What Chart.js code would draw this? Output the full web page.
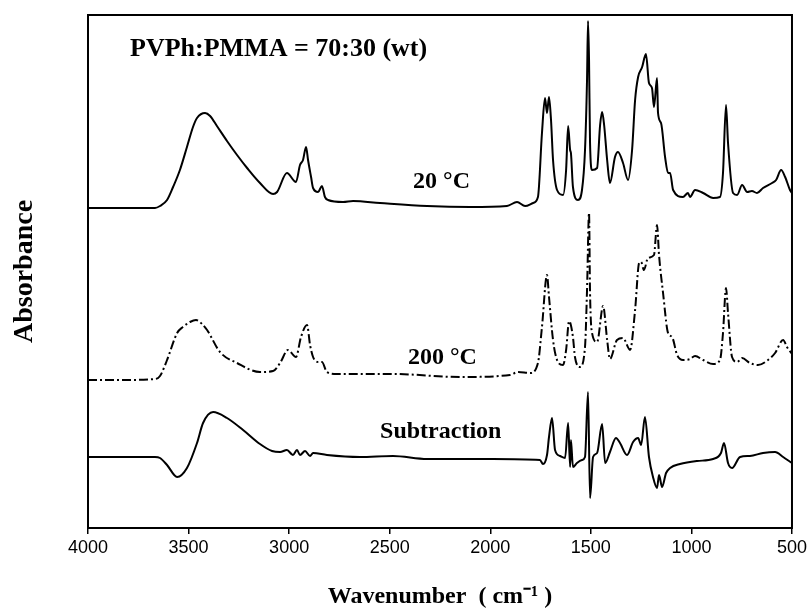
<!DOCTYPE html>
<html>
<head>
<meta charset="utf-8">
<script src="https://cdn.jsdelivr.net/npm/chart.js@4.4.1/dist/chart.umd.min.js"></script>
<style>
  html, body { margin: 0; padding: 0; background: #fff; }
</style>
</head>
<body>
<canvas id="ftirChart" width="810" height="611"></canvas>
<script>
// wavenumber (cm-1) and offset absorbance (a.u.)
const wn20 = [4000, 3841, 3667, 3642, 3607, 3577, 3543, 3508, 3478, 3458, 3418, 3393, 3359, 3309, 3259, 3209, 3145, 3080, 3060, 3011, 2966, 2946, 2931, 2916, 2906, 2891, 2881, 2856, 2837, 2822, 2807, 2732, 2682, 2548, 2314, 2101, 1917, 1867, 1827, 1787, 1763, 1743, 1728, 1718, 1708, 1698, 1688, 1668, 1638, 1623, 1613, 1603, 1599, 1589, 1564, 1544, 1529, 1519, 1514, 1509, 1504, 1494, 1469, 1454, 1444, 1434, 1419, 1405, 1380, 1365, 1340, 1315, 1295, 1280, 1265, 1245, 1226, 1211, 1196, 1186, 1171, 1166, 1151, 1131, 1116, 1106, 1091, 1042, 1017, 1007, 982, 942, 892, 858, 843, 828, 818, 793, 773, 748, 723, 699, 674, 644, 599, 579, 554, 534, 510, 500];
const abs20 = [3.20, 3.20, 3.20, 3.22, 3.28, 3.41, 3.58, 3.81, 4.01, 4.10, 4.15, 4.12, 4.02, 3.87, 3.73, 3.60, 3.45, 3.34, 3.36, 3.55, 3.46, 3.63, 3.68, 3.81, 3.68, 3.51, 3.40, 3.36, 3.42, 3.31, 3.28, 3.26, 3.27, 3.25, 3.22, 3.21, 3.22, 3.26, 3.22, 3.25, 3.31, 3.95, 4.30, 4.15, 4.31, 4.08, 3.68, 3.38, 3.33, 3.58, 4.02, 3.78, 3.75, 3.41, 3.28, 3.38, 3.78, 4.48, 5.07, 4.68, 3.85, 3.58, 3.60, 4.03, 4.16, 4.03, 3.68, 3.45, 3.71, 3.76, 3.65, 3.48, 3.78, 4.28, 4.51, 4.61, 4.74, 4.45, 4.40, 4.21, 4.50, 4.15, 4.05, 3.71, 3.55, 3.55, 3.38, 3.31, 3.35, 3.31, 3.38, 3.35, 3.30, 3.31, 3.55, 4.23, 3.85, 3.35, 3.33, 3.43, 3.36, 3.37, 3.35, 3.40, 3.45, 3.48, 3.58, 3.51, 3.38, 3.35];

const wn200 = [4000, 3841, 3667, 3642, 3607, 3557, 3528, 3493, 3463, 3433, 3408, 3344, 3259, 3145, 3080, 3045, 3006, 2966, 2941, 2911, 2896, 2881, 2856, 2837, 2812, 2762, 2484, 2150, 1902, 1862, 1802, 1763, 1743, 1718, 1708, 1688, 1668, 1638, 1623, 1608, 1589, 1579, 1554, 1529, 1519, 1509, 1504, 1494, 1469, 1439, 1419, 1405, 1370, 1340, 1305, 1280, 1260, 1250, 1236, 1216, 1186, 1171, 1161, 1141, 1116, 1096, 1071, 1042, 1007, 982, 942, 892, 858, 843, 828, 818, 798, 773, 748, 709, 669, 619, 584, 544, 525, 500];
const abs200 = [1.48, 1.48, 1.49, 1.52, 1.68, 1.95, 2.01, 2.06, 2.08, 2.04, 1.98, 1.76, 1.65, 1.56, 1.57, 1.65, 1.78, 1.71, 1.91, 2.03, 1.83, 1.71, 1.66, 1.66, 1.56, 1.54, 1.54, 1.51, 1.53, 1.56, 1.55, 1.65, 2.01, 2.53, 2.31, 1.88, 1.68, 1.63, 1.78, 2.07, 1.91, 1.71, 1.61, 1.81, 2.38, 3.15, 2.35, 1.95, 1.86, 2.22, 1.88, 1.69, 1.88, 1.90, 1.78, 2.18, 2.65, 2.66, 2.58, 2.70, 2.73, 3.03, 2.73, 2.35, 1.95, 1.91, 1.73, 1.68, 1.69, 1.72, 1.68, 1.64, 1.68, 1.95, 2.40, 2.15, 1.71, 1.66, 1.70, 1.65, 1.63, 1.68, 1.75, 1.88, 1.81, 1.74];

const wnSub = [4000, 3667, 3642, 3607, 3557, 3508, 3458, 3428, 3378, 3309, 3229, 3145, 3085, 3045, 3011, 2981, 2961, 2946, 2921, 2896, 2881, 2812, 2648, 2484, 2314, 1986, 1753, 1738, 1718, 1708, 1693, 1678, 1653, 1628, 1613, 1603, 1599, 1589, 1569, 1544, 1529, 1514, 1504, 1489, 1469, 1444, 1429, 1405, 1375, 1355, 1320, 1290, 1265, 1250, 1231, 1211, 1191, 1171, 1161, 1146, 1126, 1106, 1057, 972, 892, 853, 838, 818, 798, 758, 709, 644, 584, 544, 500];
const absSub = [0.71, 0.71, 0.70, 0.63, 0.51, 0.60, 0.85, 1.05, 1.16, 1.10, 0.98, 0.84, 0.77, 0.76, 0.78, 0.73, 0.78, 0.73, 0.77, 0.72, 0.75, 0.73, 0.71, 0.72, 0.69, 0.69, 0.68, 0.64, 0.73, 0.91, 1.10, 0.78, 0.72, 0.70, 1.05, 0.61, 0.88, 0.61, 0.65, 0.68, 0.71, 1.36, 0.30, 0.71, 0.75, 1.04, 0.65, 0.76, 0.90, 0.85, 0.73, 0.86, 0.90, 0.83, 1.11, 0.71, 0.51, 0.40, 0.53, 0.41, 0.55, 0.60, 0.64, 0.67, 0.69, 0.75, 0.85, 0.65, 0.60, 0.71, 0.72, 0.75, 0.76, 0.71, 0.65];

// text labels inside the plot, anchored in data coordinates (left edge, middle)
const labelTexts = ["PVPh:PMMA = 70:30 (wt)", "20 \u00B0C", "200 \u00B0C", "Subtraction"];
const labelWn = [3791, 2384, 2409, 2548];
const labelAbs = [4.79, 3.46, 1.70, 0.96];
const labelSizes = [26, 24, 24, 24];

const xTicks = [4000, 3500, 3000, 2500, 2000, 1500, 1000, 500];

function toPoints(xs, ys) {
  return xs.map((x, i) => ({ x: x, y: ys[i] }));
}

const labelPlugin = {
  id: "spectrumLabels",
  afterDatasetsDraw(chart) {
    const { ctx, chartArea, scales } = chart;
    ctx.save();
    ctx.strokeStyle = "#000";
    ctx.lineWidth = 2;
    ctx.strokeRect(chartArea.left, chartArea.top, chartArea.width, chartArea.height);
    ctx.fillStyle = "#000";
    ctx.textBaseline = "middle";
    ctx.textAlign = "left";
    labelTexts.forEach((t, i) => {
      ctx.font = "bold " + labelSizes[i] + "px 'Liberation Serif', 'Times New Roman', serif";
      ctx.fillText(t, scales.x.getPixelForValue(labelWn[i]), scales.y.getPixelForValue(labelAbs[i]));
    });
    ctx.restore();
  }
};

const lineStyle = {
  borderColor: "#000",
  borderWidth: 2,
  pointRadius: 0,
  fill: false,
  cubicInterpolationMode: "monotone"
};

const ctx = document.getElementById("ftirChart").getContext("2d");
new Chart(ctx, {
  type: "line",
  data: {
    datasets: [
      Object.assign({ label: "20 °C", data: toPoints(wn20, abs20) }, lineStyle),
      Object.assign({ label: "200 °C", data: toPoints(wn200, abs200), borderDash: [9, 3, 2, 3] }, lineStyle),
      Object.assign({ label: "Subtraction", data: toPoints(wnSub, absSub) }, lineStyle)
    ]
  },
  options: {
    responsive: false,
    animation: false,
    devicePixelRatio: 1,
    layout: { padding: { left: 0, top: 15, right: 18, bottom: 0 } },
    plugins: { legend: { display: false }, tooltip: { enabled: false } },
    scales: {
      x: {
        type: "linear",
        reverse: true,
        min: 500,
        max: 4000,
        afterBuildTicks: (axis) => { axis.ticks = xTicks.map(v => ({ value: v })); },
        afterFit: (axis) => { axis.height = 83; },
        ticks: {
          color: "#000",
          padding: 3,
          maxRotation: 0,
          autoSkip: false,
          callback: (v) => String(v),
          font: { family: "'Liberation Sans', Arial, sans-serif", size: 18 }
        },
        grid: { drawOnChartArea: false, tickLength: 6, color: "#000", lineWidth: 1.5 },
        border: { color: "#000", width: 2 },
        title: {
          display: true,
          text: "Wavenumber  ( cm\u207B\u00B9 )",
          color: "#000",
          padding: { top: 4, bottom: 0 },
          font: { family: "'Liberation Serif', 'Times New Roman', serif", weight: "bold", size: 24 }
        }
      },
      y: {
        min: 0,
        max: 5.13,
        afterFit: (axis) => { axis.width = 88; },
        ticks: { display: false },
        grid: { display: false },
        border: { color: "#000", width: 2 },
        title: {
          display: true,
          text: "Absorbance",
          color: "#000",
          padding: { top: 8, bottom: 0 },
          font: { family: "'Liberation Serif', 'Times New Roman', serif", weight: "bold", size: 28 }
        }
      }
    }
  },
  plugins: [labelPlugin]
});
</script>
</body>
</html>
